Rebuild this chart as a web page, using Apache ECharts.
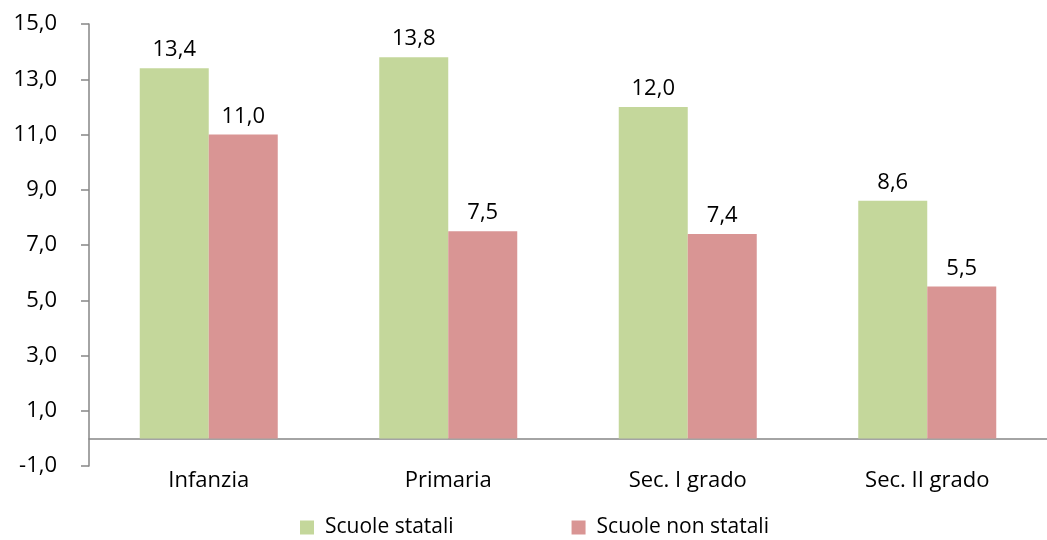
<!DOCTYPE html>
<html><head><meta charset="utf-8">
<script src="https://cdn.jsdelivr.net/npm/echarts@6/dist/echarts.min.js"></script>
<style>html,body{margin:0;padding:0;background:#fff}#c{width:1047px;height:540px}</style>
</head><body><div id="c"></div>
<script>
const categories = ['Infanzia', 'Primaria', 'Sec. I grado', 'Sec. II grado'];
const statali = [13.4, 13.8, 12.0, 8.6];
const nonStatali = [11.0, 7.5, 7.4, 5.5];
const seriesNames = ['Scuole statali', 'Scuole non statali'];
const FONT = '"Open Sans", "Noto Sans", sans-serif';
const fmt = v => v.toFixed(1).replace('.', ',');
const chart = echarts.init(document.getElementById('c'));
chart.setOption({
  animation: false,
  textStyle: {fontFamily: FONT, color: '#000'},
  grid: {left: 89, top: 24, bottom: 74, width: 969},
  legend: {
    bottom: -3, left: 295, itemWidth: 14, itemHeight: 14, itemGap: 118,
    icon: 'rect', textStyle: {fontSize: 21, fontFamily: FONT, color: '#000', padding: [0, 0, 0, 6]},
    data: seriesNames
  },
  xAxis: {
    type: 'category', data: categories,
    axisLine: {onZero: true, lineStyle: {color: '#868686', width: 1.5}},
    axisTick: {show: false},
    axisLabel: {fontSize: 22, color: '#000', margin: 4, fontFamily: FONT}
  },
  yAxis: {
    type: 'value', min: -1, max: 15, interval: 2,
    axisLine: {show: true, lineStyle: {color: '#868686', width: 1.5}},
    axisTick: {show: true, length: 8, lineStyle: {color: '#868686', width: 1.5}},
    splitLine: {show: false},
    axisLabel: {fontSize: 22, color: '#000', margin: 32, fontFamily: FONT, formatter: v => fmt(v)}
  },
  series: [
    {name: seriesNames[0], type: 'bar', data: statali, barWidth: 69, barGap: '0%',
     itemStyle: {color: '#C4D79B'},
     label: {show: true, position: 'top', distance: 7, fontSize: 22, color: '#000', fontFamily: FONT, formatter: p => fmt(p.value)}},
    {name: seriesNames[1], type: 'bar', data: nonStatali, barWidth: 69, barGap: '0%',
     itemStyle: {color: '#D99594'},
     label: {show: true, position: 'top', distance: 7, fontSize: 22, color: '#000', fontFamily: FONT, formatter: p => fmt(p.value)}}
  ]
});
</script></body></html>
